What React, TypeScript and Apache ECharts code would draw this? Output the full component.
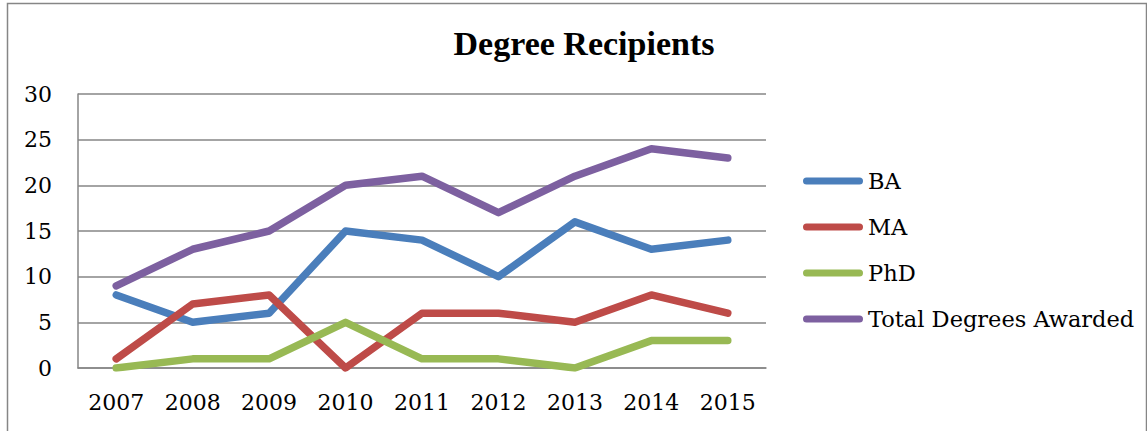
import React, { useEffect, useRef } from "react";
import * as echarts from "echarts";

const years = ["2007", "2008", "2009", "2010", "2011", "2012", "2013", "2014", "2015"];
const ba = [8, 5, 6, 15, 14, 10, 16, 13, 14];
const ma = [1, 7, 8, 0, 6, 6, 5, 8, 6];
const phd = [0, 1, 1, 5, 1, 1, 0, 3, 3];
const total = [9, 13, 15, 20, 21, 17, 21, 24, 23];
const seriesNames = ["BA", "MA", "PhD", "Total Degrees Awarded"];

const FONT = "DejaVu Serif";
const legendIcon = "path://M3.5,0 L56.5,0 A3.5,3.5 0 0 1 56.5,7 L3.5,7 A3.5,3.5 0 0 1 3.5,0 Z";

export default function App() {
  const ref = useRef<HTMLDivElement>(null);
  useEffect(() => {
    document.body.style.margin = "0";
    const chart = echarts.init(ref.current!, null, { renderer: "svg" });
    const mk = (name: string, data: number[], color: string) => ({
      name,
      type: "line",
      data,
      symbol: "none",
      lineStyle: { color, width: 7.5, cap: "round", join: "round" },
      itemStyle: { color },
    });
    chart.setOption({
      animation: false,
      backgroundColor: "#fff",
      textStyle: { fontFamily: FONT },
      graphic: [
        {
          type: "rect",
          shape: { x: 7.5, y: 3.5, width: 1139, height: 440 },
          style: { fill: "none", stroke: "#868686", lineWidth: 1.5 },
          silent: true,
        },
        {
          type: "text",
          x: 584,
          y: 43,
          style: {
            text: "Degree Recipients",
            font: "bold 34px 'Liberation Serif'",
            fill: "#000",
            textAlign: "center",
            textVerticalAlign: "middle",
          },
        },
      ],
      grid: { left: 78, top: 94, width: 688, height: 274, containLabel: false },
      legend: {
        orient: "vertical",
        left: 803,
        top: 168,
        padding: 0,
        itemWidth: 60,
        itemHeight: 7,
        itemGap: 20,
        icon: legendIcon,
        textStyle: { fontFamily: FONT, fontSize: 22.5, lineHeight: 26, color: "#000" },
        data: seriesNames,
      },
      xAxis: {
        type: "category",
        data: years,
        boundaryGap: true,
        axisLine: { lineStyle: { color: "#868686", width: 1.5 } },
        axisTick: { show: false },
        axisLabel: { color: "#000", fontFamily: FONT, fontSize: 22, margin: 23 },
      },
      yAxis: {
        type: "value",
        min: 0,
        max: 30,
        interval: 5,
        axisLine: { show: true, lineStyle: { color: "#868686", width: 1.5 } },
        axisTick: { show: false },
        splitLine: { lineStyle: { color: "#868686", width: 1.5 } },
        axisLabel: { color: "#000", fontFamily: FONT, fontSize: 22, margin: 26 },
      },
      series: [
        mk(seriesNames[0], ba, "#4a7ebb"),
        mk(seriesNames[1], ma, "#be4b48"),
        mk(seriesNames[2], phd, "#98b954"),
        mk(seriesNames[3], total, "#7d60a0"),
      ],
    });
    return () => chart.dispose();
  }, []);
  return <div ref={ref} style={{ width: 1147, height: 431 }} />;
}
